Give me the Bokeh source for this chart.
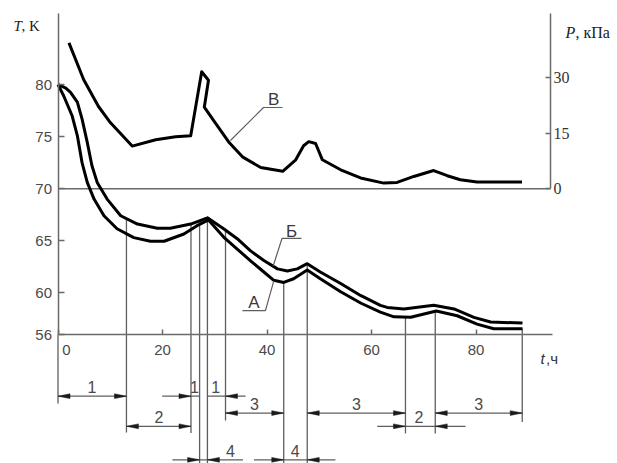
import numpy as np
from bokeh.plotting import figure
from bokeh.models import Range1d, LinearAxis, FixedTicker, Label
from bokeh.core.properties import value
from bokeh.embed import file_html
from bokeh.resources import INLINE

# ---------------- data ----------------
# curve A (lower temperature curve), t [h], T [K]
hours_A = [0, 1.1, 2.7, 3.7, 4.6, 5.6, 6.9, 8.8, 11.3, 14.5, 17.7, 20.3, 24.1, 26.6, 28.8,
           31.7, 34.3, 36.8, 39.4, 41.3, 43.2, 45.1, 47.7, 50.2, 54.1, 58.0, 61.7, 64.3,
           67.5, 72.4, 76.4, 80.2, 83.4, 88.9]
temp_A = [80.0, 78.9, 77.0, 75.1, 72.5, 70.6, 69.0, 67.4, 66.15, 65.3, 64.95, 64.95, 65.65, 66.45, 67.0,
          65.35, 64.2, 63.1, 62.0, 61.2, 61.0, 61.35, 62.2, 61.35, 60.1, 59.0, 58.15, 57.7,
          57.65, 58.25, 57.8, 57.0, 56.55, 56.55]

# curve Б (upper temperature curve)
hours_Be = [0, 0.5, 1.5, 2.4, 3.7, 4.6, 5.6, 6.5, 7.5, 9.4, 12.0, 15.2, 19.0, 21.5, 25.4, 28.6,
            31.7, 34.3, 36.8, 39.4, 42.0, 43.9, 45.8, 47.7, 50.2, 54.1, 57.9, 61.7, 63.0,
            66.2, 71.9, 75.8, 79.6, 82.8, 88.9]
temp_Be = [80.0, 79.9, 79.65, 79.25, 78.3, 76.7, 74.45, 72.2, 70.6, 69.0, 67.4, 66.6, 66.2, 66.2, 66.6, 67.2,
           66.15, 65.2, 64.05, 63.1, 62.3, 62.1, 62.3, 62.8, 62.0, 60.9, 59.75, 58.8, 58.6,
           58.45, 58.8, 58.45, 57.65, 57.2, 57.1]

# curve В (pressure), t [h], P [kPa]
hours_V = [2.1, 4.9, 7.75, 10.05, 14.2, 18.7, 22.5, 25.4, 27.5, 28.8, 28.0, 30.1, 32.8, 35.3,
           38.8, 43.0, 45.5, 47.0, 48.0, 49.3, 50.6, 54.1, 57.9, 62.35, 64.9, 68.1, 71.9, 74.5,
           77.0, 80.2, 84.1, 88.8]
pres_V = [39.4, 29.5, 22.2, 17.8, 11.5, 13.2, 14.0, 14.3, 31.6, 29.3, 22.0, 17.8, 12.4, 8.6,
          5.7, 4.7, 7.8, 11.6, 12.7, 12.2, 7.8, 5.1, 2.9, 1.5, 1.7, 3.3, 4.9, 3.5, 2.4, 1.8, 1.8, 1.8]

t_ticks = [0, 20, 40, 60, 80]
T_ticks = [56, 60, 65, 70, 75, 80]
P_ticks = [0, 15, 30]

# stage boundaries (extension lines): time, curve they start from, lower end (K or "bottom")
ext_hours = [0, 13.1, 25.45, 27.1, 28.6, 32.06, 43.2, 47.7, 66.5, 72.2, 88.85]
ext_from = ["axis", "Б", "Б", "Б", "Б", "Б", "А", "Б", "А", "А", "А"]
ext_to = [49.38, 46.59, 46.55, "bottom", "bottom", 47.75, "bottom", "bottom", 46.5, 46.5, 47.59]

# dimension rows (K-level below the time axis)
row_level = {1: 50.08, 2: 48.46, 3: 47.19, 4: 43.97}
# dimension lines: start, end, row
dim_x0 = [0, 19.94, 28.6, 32.06, 47.7, 72.2, 13.1, 61.1, 21.9, 37.5]
dim_x1 = [13.1, 27.1, 35.9, 43.2, 66.5, 88.85, 25.45, 78.0, 35.4, 53.1]
dim_row = [1, 1, 1, 2, 2, 2, 3, 3, 4, 4]
# arrow tips: time, row, direction (+1 points right, -1 points left)
tip_x = [0, 13.1, 25.45, 32.06, 32.06, 43.2, 47.7, 66.5, 72.2, 88.85, 13.1, 25.45,
         66.5, 72.2, 27.1, 28.6, 43.2, 47.7]
tip_row = [1, 1, 1, 1, 2, 2, 2, 2, 2, 2, 3, 3, 3, 3, 4, 4, 4, 4]
tip_dir = [-1, 1, 1, -1, -1, 1, -1, 1, -1, 1, -1, 1, 1, -1, 1, -1, 1, -1]
# stage numbers
lab_text = ["1", "1", "1", "3", "3", "3", "2", "2", "4", "4"]
lab_x = [6.5, 26.1, 30.2, 37.6, 57.1, 80.5, 19.3, 69.1, 33.0, 45.4]
lab_row = [1, 1, 1, 2, 2, 2, 3, 3, 4, 4]

# ---------------- geometry ----------------
W_PX, H_PX = 617, 463
px_h = 5.225          # px per hour
px_k = 10.417         # px per K
X0 = -57.5 / px_h
X1 = X0 + W_PX / px_h
Y1 = 80 + 84 / px_k
Y0 = Y1 - H_PX / px_k
P_PER_K = 30 / 10.66
P0, P1 = (Y0 - 70) * P_PER_K, (Y1 - 70) * P_PER_K
T_TOP = 86.82                 # upper end of the vertical axes
H_END = 94.64                 # right end of time axis
H_PAXIS = 94.26               # position of pressure axis

AX = "#6a6a6a"
THIN = "#5e5e5e"
TXT = "#4a4a4a"

p = figure(width=W_PX, height=H_PX, x_range=Range1d(X0, X1), y_range=Range1d(Y0, Y1),
           output_backend="svg", toolbar_location=None, min_border=0)
p.extra_y_ranges = {"p": Range1d(P0, P1)}
p.grid.visible = False
p.outline_line_color = None
p.background_fill_color = "white"
p.border_fill_color = "white"


def style_axis(ax, font, size, color, tick_in, standoff):
    ax.major_tick_in = tick_in
    ax.major_tick_out = 0
    ax.minor_tick_line_color = None
    ax.axis_line_color = AX
    ax.axis_line_width = 1.5
    ax.major_tick_line_color = AX
    ax.major_tick_line_width = 1.5
    ax.major_label_text_font = font
    ax.major_label_text_font_size = size
    ax.major_label_text_color = color
    ax.major_label_standoff = standoff


# time axis at T = 56
xa = p.xaxis[0]
xa.fixed_location = 56
xa.bounds = (0, H_END)
xa.ticker = FixedTicker(ticks=t_ticks)
xa.major_label_overrides = {0: "\u2007\u20070"}
style_axis(xa, "Liberation Sans", "15px", TXT, 5, 6)

# temperature axis at t = 0
ya = p.yaxis[0]
ya.fixed_location = 0
ya.bounds = (56, T_TOP)
ya.ticker = FixedTicker(ticks=T_ticks)
style_axis(ya, "Liberation Sans", "15px", TXT, 6, 6)

# pressure axis
pa = LinearAxis(y_range_name="p", fixed_location=H_PAXIS,
                bounds=(0, (T_TOP - 70) * P_PER_K), ticker=FixedTicker(ticks=P_ticks))
style_axis(pa, "Liberation Serif", "16px", "#333333", 5, 3)
p.add_layout(pa, "right")

# baseline of the pressure graph (T = 70 / P = 0)
p.segment(x0=[0], y0=[70], x1=[H_PAXIS], y1=[70], line_color=AX, line_width=1.5)

# ---------------- extension lines ----------------
ext_top = []
ext_bot = []
for h, src, to in zip(ext_hours, ext_from, ext_to):
    if src == "axis":
        ext_top.append(56)
    elif src == "А":
        ext_top.append(float(np.interp(h, hours_A, temp_A)))
    else:
        ext_top.append(float(np.interp(h, hours_Be, temp_Be)))
    ext_bot.append(Y0 if to == "bottom" else to)
p.segment(x0=ext_hours, y0=ext_top, x1=ext_hours, y1=ext_bot, line_color=THIN, line_width=1.3)

# dimension lines
dim_y = [row_level[r] for r in dim_row]
p.segment(x0=dim_x0, y0=dim_y, x1=dim_x1, y1=dim_y, line_color=THIN, line_width=1.3)

# arrow heads (narrow filled triangles)
L = 12 / px_h
W = 2.4 / px_k
xs, ys = [], []
for x, r, d in zip(tip_x, tip_row, tip_dir):
    y = row_level[r]
    xs.append([x, x - d * L, x - d * L])
    ys.append([y, y + W, y - W])
p.patches(xs, ys, fill_color="#1a1a1a", line_color="#1a1a1a", line_width=0.5)

# stage numbers
p.text(x=lab_x, y=[row_level[r] + 9 / px_k for r in lab_row], text=lab_text,
       text_font=value("Liberation Sans"), text_font_size="16px", text_color=TXT,
       text_align="center", text_baseline="middle")

# ---------------- curves ----------------
p.line(hours_A, temp_A, line_color="black", line_width=3, line_join="round")
p.line(hours_Be, temp_Be, line_color="black", line_width=3, line_join="round")
p.line(hours_V, pres_V, y_range_name="p", line_color="black", line_width=3, line_join="round")

# curve labels with leaders
lead_V_x, lead_V_y = [33.0, 39.33, 42.97], [74.62, 77.79, 77.79]
lead_B_x, lead_B_y = [41.2, 42.87, 46.6], [62.6, 65.22, 65.22]
lead_A_x, lead_A_y = [41.3, 39.7, 35.3], [61.15, 58.3, 58.3]
for lx, ly in [(lead_V_x, lead_V_y), (lead_B_x, lead_B_y), (lead_A_x, lead_A_y)]:
    p.line(lx, ly, line_color=THIN, line_width=1.2)
p.text(x=[41.3, 44.7, 37.5], y=[78.56, 65.89, 59.07],
       text=["В", "Б", "А"], text_font=value("Liberation Sans"), text_font_size="17px",
       text_color="#3a3a3a", text_align="center", text_baseline="middle")


# axis titles
def lab(x, y, text, font="Liberation Serif", style="normal", size="15px", color="#222222"):
    p.add_layout(Label(x=x, y=y, text=text, text_font=font, text_font_style=style,
                       text_font_size=size, text_color=color, text_align="left",
                       text_baseline="middle"))


lab(-8.52, 85.57, "T", style="italic")
lab(-6.99, 85.57, ", K")
lab(97.13, 85.02, "P", style="italic", size="16px")
lab(99.04, 85.02, ", кПа", size="16px")
lab(92.34, 53.73, "t", font="Liberation Sans", style="italic", color="#333333")
lab(93.4, 53.73, ",ч", font="Liberation Sans", color="#333333")

open("out.html", "w").write(file_html(p, INLINE))
